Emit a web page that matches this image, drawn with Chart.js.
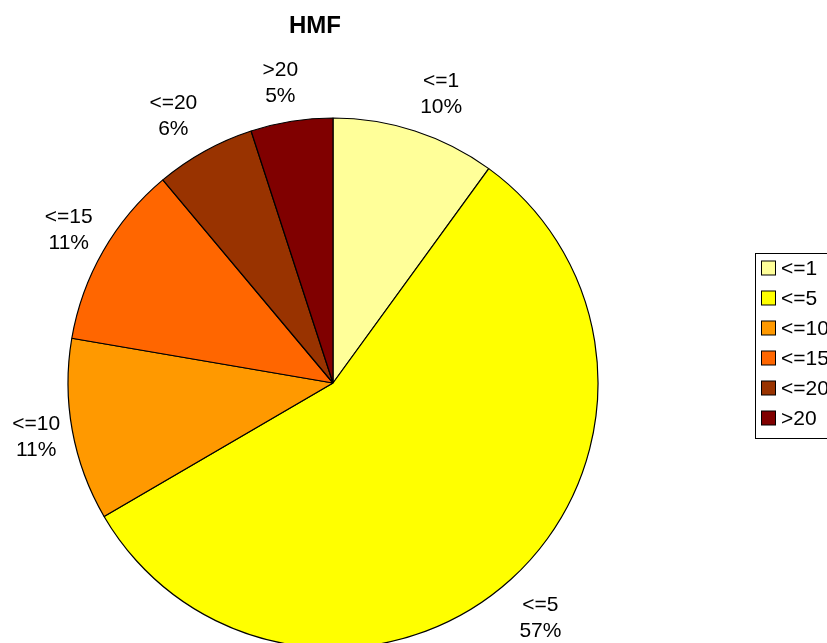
<!DOCTYPE html>
<html><head><meta charset="utf-8">
<script src="https://cdn.jsdelivr.net/npm/chart.js@4"></script>
<style>html,body{margin:0;padding:0;background:#fff;overflow:hidden}#wrap{width:827px;height:643px;position:relative}</style>
</head><body><div id="wrap"><canvas id="c" width="827" height="643"></canvas></div>
<script>
const categories = ['<=1', '<=5', '<=10', '<=15', '<=20', '>20'];
const shares = [10.0, 56.6, 11.1, 11.2, 6.1, 5.0];
const sliceColors = ['#FFFF99', '#FFFF00', '#FF9900', '#FF6600', '#993300', '#800000'];
const chartTitle = 'HMF';

const FONT = "'Liberation Sans', Arial, Helvetica, sans-serif";
const total = shares.reduce((a, b) => a + b, 0);
const percentLabels = shares.map(v => Math.round(v / total * 100) + '%');

// small label nudges (styling, to mimic the original's text placement)
const labelNudge = [[14, 1], [3, 9], [3, 0], [0, -1], [-12, 0], [-5, 1]];

const overlay = {
  id: 'overlay',
  afterDraw(chart) {
    const ctx = chart.ctx;
    ctx.save();
    // title
    ctx.fillStyle = '#000';
    ctx.font = 'bold 24px ' + FONT;
    ctx.textAlign = 'center';
    ctx.textBaseline = 'alphabetic';
    ctx.fillText(chartTitle, 315, 33);

    // slice labels
    const meta = chart.getDatasetMeta(0);
    ctx.font = '21px ' + FONT;
    ctx.textBaseline = 'middle';
    meta.data.forEach((arc, i) => {
      const p = arc.getProps(['x', 'y', 'startAngle', 'endAngle', 'outerRadius'], true);
      const mid = (p.startAngle + p.endAngle) / 2;
      const r = p.outerRadius * 1.15;
      const px = p.x + Math.cos(mid) * r + labelNudge[i][0];
      const py = p.y + Math.sin(mid) * r + labelNudge[i][1];
      ctx.fillText(chart.data.labels[i], px, py - 13);
      ctx.fillText(percentLabels[i], px, py + 13);
    });

    // legend
    const lx = 755.5, ly = 253.5, lw = 120, lh = 185;
    ctx.fillStyle = '#fff';
    ctx.fillRect(lx, ly, lw, lh);
    ctx.strokeStyle = '#000';
    ctx.lineWidth = 1;
    ctx.strokeRect(lx, ly, lw, lh);
    ctx.textAlign = 'left';
    categories.forEach((c, i) => {
      const cy = 268 + i * 30;
      ctx.fillStyle = sliceColors[i];
      ctx.fillRect(761.5, cy - 7, 14, 14);
      ctx.strokeStyle = '#000';
      ctx.strokeRect(761.5, cy - 7, 14, 14);
      ctx.fillStyle = '#000';
      ctx.fillText(c, 781, cy + 1);
    });
    ctx.restore();
  }
};

new Chart(document.getElementById('c'), {
  type: 'pie',
  data: {
    labels: categories,
    datasets: [{
      data: shares,
      backgroundColor: sliceColors,
      borderColor: '#000',
      borderWidth: 1.2
    }]
  },
  options: {
    responsive: false,
    animation: false,
    devicePixelRatio: 1,
    radius: 265,
    rotation: 0,
    layout: { padding: { left: 0, right: 161, top: 123, bottom: 0 } },
    plugins: {
      legend: { display: false },
      tooltip: { enabled: false },
      title: { display: false }
    }
  },
  plugins: [overlay]
});
</script>
</body></html>
